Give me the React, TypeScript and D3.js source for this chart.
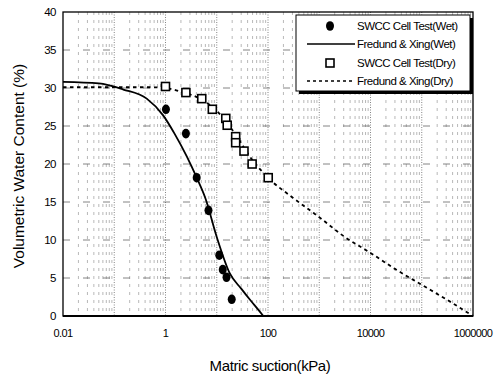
import React from 'react';
import * as d3 from 'd3';

// measured points
const wetSuction = [1.02, 2.5, 4.06, 6.9, 11.2, 13.1, 15.5, 19.6];
const wetTheta = [27.2, 24.0, 18.2, 13.9, 8.0, 6.1, 5.1, 2.2];
const drySuction = [1.0, 2.5, 5.1, 8.2, 15, 16, 23.4, 23.4, 34, 49, 101];
const dryTheta = [30.2, 29.4, 28.6, 27.2, 26.0, 25.1, 23.6, 22.8, 21.7, 20.0, 18.2];

// fitted curves (Fredlund & Xing)
const wetCurveSuction = [0.01, 0.05, 0.15, 0.43, 0.9, 1.5, 2.6, 4, 6, 10, 18, 30, 45, 65, 81];
const wetCurveTheta = [30.8, 30.6, 29.8, 28.6, 26.4, 24, 21, 18.3, 15.5, 10.4, 5.6, 3.6, 2.1, 0.8, 0];
const dryCurveSuction = [0.01, 0.1, 0.5, 1, 2, 5, 10, 20, 50, 100, 300, 1000, 3000, 10000, 30000, 100000, 300000, 1000000];
const dryCurveTheta = [30.1, 30.1, 30.1, 30.0, 29.5, 28.5, 27, 24.5, 20.5, 18.2, 15.6, 13.0, 10.5, 8.3, 6.2, 4.1, 2.2, 0];

const xTicks = [0.01, 1, 100, 10000, 1000000];
const xTickLabels = ['0.01', '1', '100', '10000', '1000000'];
const yTicks = [0, 5, 10, 15, 20, 25, 30, 35, 40];

const legendLabels = ['SWCC Cell Test(Wet)', 'Fredund & Xing(Wet)', 'SWCC Cell Test(Dry)', 'Fredund & Xing(Dry)'];

const W = 501, H = 378;
const margins = { left: 63, right: 28, top: 12, bottom: 62 };
const font = 'Arial, "Liberation Sans", sans-serif';

const App = () => {
    const xScale = d3.scaleLog()
        .domain([0.01, 1000000])
        .range([margins.left, W - margins.right]);
    const yScale = d3.scaleLinear()
        .domain([0, 40])
        .range([H - margins.bottom, margins.top]);

    const line = d3.line<[number, number]>()
        .x(d => xScale(d[0]))
        .y(d => yScale(d[1]))
        .curve(d3.curveMonotoneX);

    const wetPath = line(wetCurveSuction.map((s, i) => [s, wetCurveTheta[i]]));
    const dryPath = line(dryCurveSuction.map((s, i) => [s, dryCurveTheta[i]]));

    // minor log gridlines
    const minor: number[] = [];
    for (let e = -2; e < 6; e++) {
        for (let k = 2; k <= 9; k++) minor.push(k * Math.pow(10, e));
    }
    const decades = d3.range(-1, 6).map(e => Math.pow(10, e));

    const [x0, x1] = xScale.range();
    const [y0, y1] = yScale.range();

    const lx = 296, ly = 15, lw = 174, lh = 76;
    const rowY = [26, 44, 63, 81];

    return (
        <svg width={W} height={H} style={{ position: 'absolute', left: 0, top: 0, background: '#fff' }}>
            {/* grid */}
            <g>
                {minor.map((m, i) => (
                    <line key={'m' + i} x1={xScale(m)} x2={xScale(m)} y1={y1} y2={y0}
                        stroke="#999" strokeWidth={0.7} strokeDasharray="3,5" />
                ))}
                {decades.map((d, i) => (
                    <line key={'d' + i} x1={xScale(d)} x2={xScale(d)} y1={y1} y2={y0}
                        stroke="#666" strokeWidth={0.8} strokeDasharray="1,1.5" />
                ))}
                {yTicks.slice(1, -1).map((t, i) => (
                    <line key={'h' + i} x1={x0} x2={x1} y1={yScale(t)} y2={yScale(t)}
                        stroke="#666" strokeWidth={0.8} strokeDasharray="7,13" />
                ))}
            </g>

            {/* curves */}
            <path d={wetPath || ''} fill="none" stroke="#000" strokeWidth={1.8} />
            <path d={dryPath || ''} fill="none" stroke="#000" strokeWidth={1.8} strokeDasharray="3.5,3.5" />

            {/* points */}
            {wetSuction.map((s, i) => (
                <ellipse key={'w' + i} cx={xScale(s)} cy={yScale(wetTheta[i])} rx={4} ry={4.8} fill="#000" />
            ))}
            {drySuction.map((s, i) => (
                <rect key={'s' + i} x={xScale(s) - 4} y={yScale(dryTheta[i]) - 4} width={8} height={8}
                    fill="#fff" stroke="#000" strokeWidth={1.6} />
            ))}

            {/* frame */}
            <rect x={x0} y={y1} width={x1 - x0} height={y0 - y1} fill="none" stroke="#000" strokeWidth={1.3} />
            <line x1={x0} x2={x1} y1={y0} y2={y0} stroke="#000" strokeWidth={2.2} />

            {/* tick labels */}
            {xTicks.map((t, i) => (
                <text key={'xt' + i} x={xScale(t)} y={337} textAnchor="middle" fontFamily={font}
                    fontSize={11} letterSpacing={-0.6}>{xTickLabels[i]}</text>
            ))}
            {yTicks.map((t, i) => (
                <text key={'yt' + i} x={56} y={yScale(t) + 4} textAnchor="end" fontFamily={font}
                    fontSize={11.5} letterSpacing={-0.5}>{t}</text>
            ))}

            {/* axis titles */}
            <text x={270} y={371} textAnchor="middle" fontFamily={font} fontSize={15} letterSpacing={-0.4}>Matric suction(kPa)</text>
            <text transform={`translate(24,${(y0 + y1) / 2 + 2})rotate(-90)`} textAnchor="middle"
                fontFamily={font} fontSize={15.5}>Volumetric Water Content (%)</text>

            {/* legend */}
            <rect x={lx + 3} y={ly + 3} width={lw} height={lh} fill="#000" />
            <rect x={lx} y={ly} width={lw} height={lh} fill="#fff" stroke="#000" strokeWidth={1} />
            <ellipse cx={330} cy={rowY[0]} rx={4} ry={4.8} fill="#000" />
            <line x1={307} x2={355} y1={rowY[1]} y2={rowY[1]} stroke="#000" strokeWidth={1.5} />
            <rect x={326} y={rowY[2] - 4} width={8} height={8} fill="#fff" stroke="#000" strokeWidth={1.6} />
            <line x1={307} x2={355} y1={rowY[3]} y2={rowY[3]} stroke="#000" strokeWidth={1.5} strokeDasharray="3,3" />
            {legendLabels.map((l, i) => (
                <text key={'l' + i} x={357} y={rowY[i] + 4} fontFamily={font} fontSize={11.5}
                    letterSpacing={-0.5}>{l}</text>
            ))}
        </svg>
    );
};

export default App;
